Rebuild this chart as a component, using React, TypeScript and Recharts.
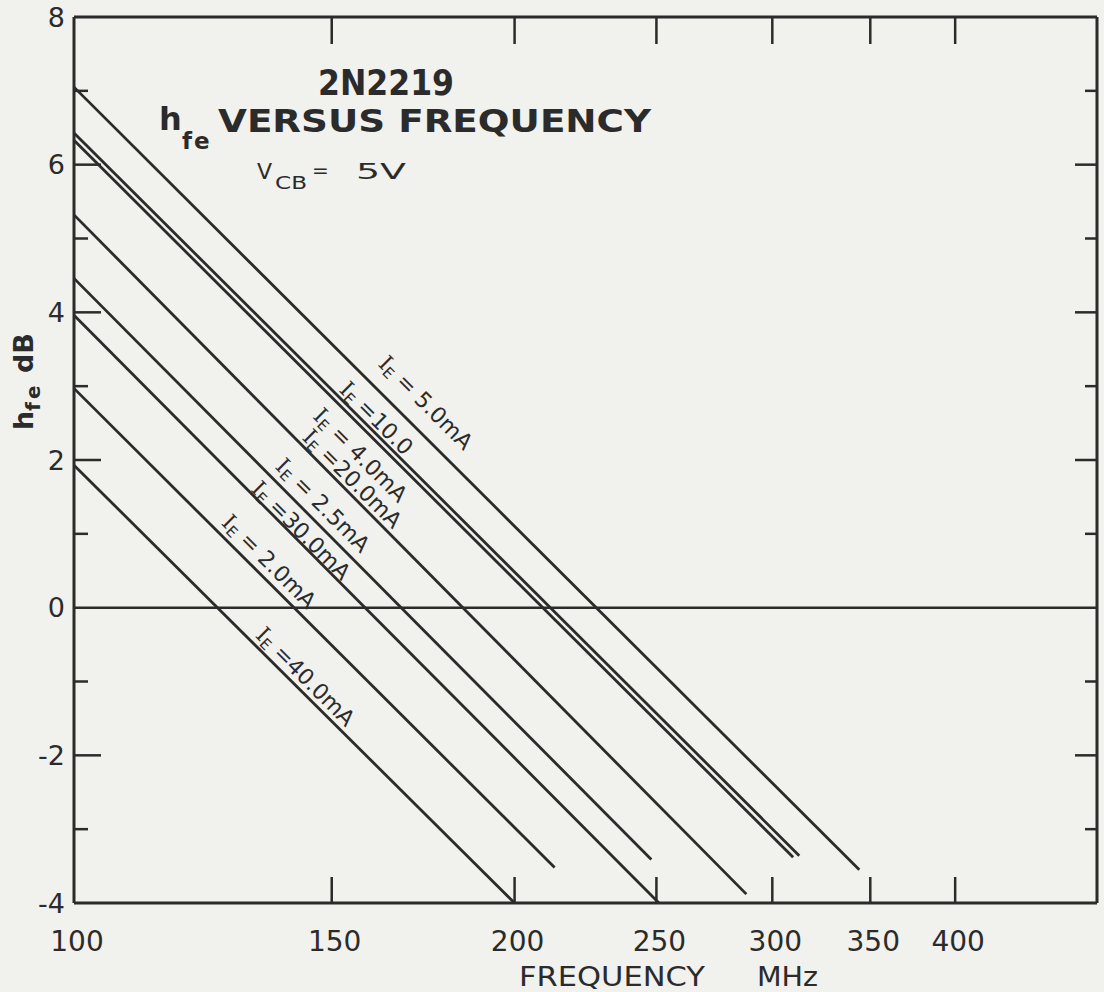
import { LineChart, Line, XAxis, YAxis, ReferenceLine, ReferenceDot } from 'recharts'

const INK = '#2b2b2b'
const PAPER = '#f1f1ed'
const FONT = '"DejaVu Sans", "Liberation Sans", sans-serif'

// frequency axis (MHz, log) and hfe axis (dB)
const freqTicks = [100, 150, 200, 250, 300, 350, 400]
const hfeTicks = [-4, -3, -2, -1, 0, 1, 2, 3, 4, 5, 6, 7, 8]

// one straight line per emitter current, start and end
const ie5_0 = [{ f: 100, hfe: 7.05 }, { f: 344, hfe: -3.55 }]
const ie10_0 = [{ f: 100, hfe: 6.43 }, { f: 313, hfe: -3.36 }]
const ie4_0 = [{ f: 100, hfe: 6.33 }, { f: 310, hfe: -3.38 }]
const ie20_0 = [{ f: 100, hfe: 5.32 }, { f: 288, hfe: -3.88 }]
const ie2_5 = [{ f: 100, hfe: 4.46 }, { f: 248, hfe: -3.41 }]
const ie30_0 = [{ f: 100, hfe: 3.96 }, { f: 251, hfe: -4.0 }]
const ie2_0 = [{ f: 100, hfe: 2.97 }, { f: 213, hfe: -3.52 }]
const ie40_0 = [{ f: 100, hfe: 1.93 }, { f: 200, hfe: -4.0 }]

const curves = [ie5_0, ie10_0, ie4_0, ie20_0, ie2_5, ie30_0, ie2_0, ie40_0]

// labels written along the lines
const labelText = [' = 5.0mA', ' =10.0', ' = 4.0mA', ' =20.0mA', ' = 2.5mA', ' =30.0mA', ' = 2.0mA', ' =40.0mA']
const labelFreq = [174, 161, 157, 155, 148, 143, 136, 144]
const labelHfe = [2.78, 2.57, 2.07, 1.75, 1.39, 1.05, 0.63, -0.93]

function BottomTick({ x, y, payload }: any) {
  const v = payload.value
  return (
    <g>
      {v !== 100 && <line x1={x} x2={x} y1={y} y2={y - 26} stroke={INK} strokeWidth={2.5} />}
      <text x={x + 3} y={y + 48} textAnchor="middle" fontSize={28} fill={INK} fontFamily={FONT}>{v}</text>
    </g>
  )
}

function TopTick({ x, y, payload }: any) {
  if (payload.value === 100) return null
  return <line x1={x} x2={x} y1={y} y2={y + 27} stroke={INK} strokeWidth={2.5} />
}

function LeftTick({ x, y, payload }: any) {
  const v = payload.value
  const even = v % 2 === 0
  return (
    <g>
      {v !== 8 && v !== -4 && v !== 0 && (
        <line x1={x} x2={x + (even ? 27 : 14)} y1={y} y2={y} stroke={INK} strokeWidth={2.5} />
      )}
      {even && (
        <text x={x - 9} y={y} dy="0.36em" textAnchor="end" fontSize={27} fill={INK} fontFamily={FONT}>{v}</text>
      )}
    </g>
  )
}

function RightTick({ x, y, payload }: any) {
  const v = payload.value
  if (v === 8 || v === -4 || v === 0) return null
  return <line x1={x} x2={x - (v % 2 === 0 ? 22 : 12)} y1={y} y2={y} stroke={INK} strokeWidth={2.5} />
}

function CurveLabel({ cx, cy, text }: any) {
  if (cx == null || cy == null) return null
  return (
    <text
      x={cx}
      y={cy}
      transform={`rotate(45 ${cx} ${cy})`}
      textAnchor="middle"
      dominantBaseline="central"
      fontSize={22}
      fill={INK}
      fontFamily={FONT}
      style={{ whiteSpace: 'pre' }}
    >
      <tspan fontFamily='"DejaVu Serif", serif'>I</tspan>
      <tspan dy={6} fontSize={15}>E</tspan>
      <tspan dy={-6}>{text}</tspan>
    </text>
  )
}

export default function App() {
  return (
    <div style={{ position: 'absolute', left: 0, top: 0, width: 1104, height: 992, background: PAPER }}>
      <LineChart width={1104} height={992} margin={{ top: 16, right: 6, bottom: 88, left: 73 }}>
        <XAxis
          xAxisId="b"
          dataKey="f"
          type="number"
          scale="log"
          domain={[100, 500]}
          allowDataOverflow
          ticks={freqTicks}
          interval={0}
          height={1}
          tickSize={0}
          tickMargin={0}
          tickLine={false}
          axisLine={{ stroke: INK, strokeWidth: 3 }}
          tick={<BottomTick />}
        />
        <XAxis
          xAxisId="t"
          orientation="top"
          dataKey="f"
          type="number"
          scale="log"
          domain={[100, 500]}
          allowDataOverflow
          ticks={freqTicks}
          interval={0}
          height={1}
          tickSize={0}
          tickMargin={0}
          tickLine={false}
          axisLine={{ stroke: INK, strokeWidth: 3 }}
          tick={<TopTick />}
        />
        <YAxis
          yAxisId="l"
          type="number"
          domain={[-4, 8]}
          allowDataOverflow
          ticks={hfeTicks}
          interval={0}
          width={1}
          tickSize={0}
          tickMargin={0}
          tickLine={false}
          axisLine={{ stroke: INK, strokeWidth: 3 }}
          tick={<LeftTick />}
        />
        <YAxis
          yAxisId="r"
          orientation="right"
          type="number"
          domain={[-4, 8]}
          allowDataOverflow
          ticks={hfeTicks}
          interval={0}
          width={1}
          tickSize={0}
          tickMargin={0}
          tickLine={false}
          axisLine={{ stroke: INK, strokeWidth: 3 }}
          tick={<RightTick />}
        />
        <ReferenceLine xAxisId="b" yAxisId="l" y={0} stroke={INK} strokeWidth={2.5} />
        {curves.map((d, i) => (
          <Line
            key={i}
            xAxisId="b"
            yAxisId="l"
            data={d}
            dataKey="hfe"
            type="linear"
            stroke={INK}
            strokeWidth={2.8}
            dot={false}
            activeDot={false}
            isAnimationActive={false}
          />
        ))}
        {labelText.map((t, i) => (
          <ReferenceDot
            key={'lb' + i}
            xAxisId="b"
            yAxisId="l"
            x={labelFreq[i]}
            y={labelHfe[i]}
            r={0}
            shape={(p: any) => <CurveLabel cx={p.cx} cy={p.cy} text={t} />}
          />
        ))}
      </LineChart>
      <svg width={1104} height={992} style={{ position: 'absolute', left: 0, top: 0, pointerEvents: 'none' }}>
        <g fill={INK} fontFamily={FONT}>
          <text x={386} y={95} textAnchor="middle" fontSize={36} fontWeight={700} textLength={136} lengthAdjust="spacingAndGlyphs">2N2219</text>
          <text x={159} y={130} fontSize={32} fontWeight={700}>h</text>
          <text x={182} y={149} fontSize={23} fontWeight={700} letterSpacing={2}>fe</text>
          <text x={218} y={132} fontSize={32} fontWeight={700} textLength={433} lengthAdjust="spacingAndGlyphs">VERSUS FREQUENCY</text>
          <text x={257} y={179} fontSize={22}>V</text>
          <text x={275} y={189} fontSize={17} textLength={32} lengthAdjust="spacingAndGlyphs">CB</text>
          <text x={312} y={177} fontSize={20}>=</text>
          <text x={356} y={179} fontSize={22} textLength={50} lengthAdjust="spacingAndGlyphs">5V</text>
          <text x={519} y={986} fontSize={27} textLength={186} lengthAdjust="spacingAndGlyphs">FREQUENCY</text>
          <text x={757} y={986} fontSize={27} textLength={61} lengthAdjust="spacingAndGlyphs">MHz</text>
          <text transform="translate(33 430) rotate(-90)" fontSize={27} fontWeight={700} style={{ whiteSpace: 'pre' }}>
            h<tspan dy={7} fontSize={20} letterSpacing={3}>fe</tspan><tspan dy={-7}> dB</tspan>
          </text>
        </g>
      </svg>
    </div>
  )
}
